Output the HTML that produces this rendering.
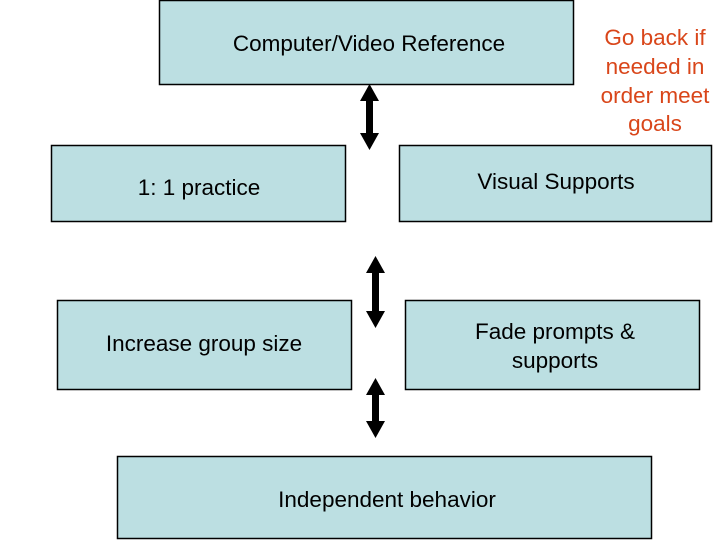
<!DOCTYPE html>
<html><head><meta charset="utf-8"><style>
html,body{margin:0;padding:0;background:#fff;width:720px;height:540px;overflow:hidden}
svg{display:block}
text{font-family:"Liberation Sans",Arial,sans-serif;font-size:22.5px;fill:#000}
</style></head><body>
<svg width="720" height="540" viewBox="0 0 720 540">
<g fill="#bcdfe2" stroke="#000" stroke-width="1.5">
<rect x="159.5" y="0.5" width="414" height="84"/>
<rect x="51.5" y="145.5" width="294" height="76"/>
<rect x="399.5" y="145.5" width="312" height="76"/>
<rect x="57.5" y="300.5" width="294" height="89"/>
<rect x="405.5" y="300.5" width="294" height="89"/>
<rect x="117.5" y="456.5" width="534" height="82"/>
</g>
<g fill="#000">
<polygon points="369.5,84 379,101 373,101 373,133 379,133 369.5,150 360,133 366,133 366,101 360,101"/>
<polygon points="375.5,256 385,273 379,273 379,311 385,311 375.5,328 366,311 372,311 372,273 366,273"/>
<polygon points="375.5,378 385,395 379,395 379,421 385,421 375.5,438 366,421 372,421 372,395 366,395"/>
</g>
<text x="369" y="51" text-anchor="middle">Computer/Video Reference</text>
<text x="199" y="195" text-anchor="middle">1: 1 practice</text>
<text x="556" y="189" text-anchor="middle">Visual Supports</text>
<text x="204" y="351" text-anchor="middle">Increase group size</text>
<text x="555" y="339" text-anchor="middle">Fade prompts &amp;</text>
<text x="555" y="368" text-anchor="middle">supports</text>
<text x="387" y="507" text-anchor="middle">Independent behavior</text>
<text x="655" y="45" text-anchor="middle" style="fill:#d9461a">Go back if</text>
<text x="655" y="74" text-anchor="middle" style="fill:#d9461a">needed in</text>
<text x="655" y="103" text-anchor="middle" style="fill:#d9461a">order meet</text>
<text x="655" y="131" text-anchor="middle" style="fill:#d9461a">goals</text>
</svg>
</body></html>
